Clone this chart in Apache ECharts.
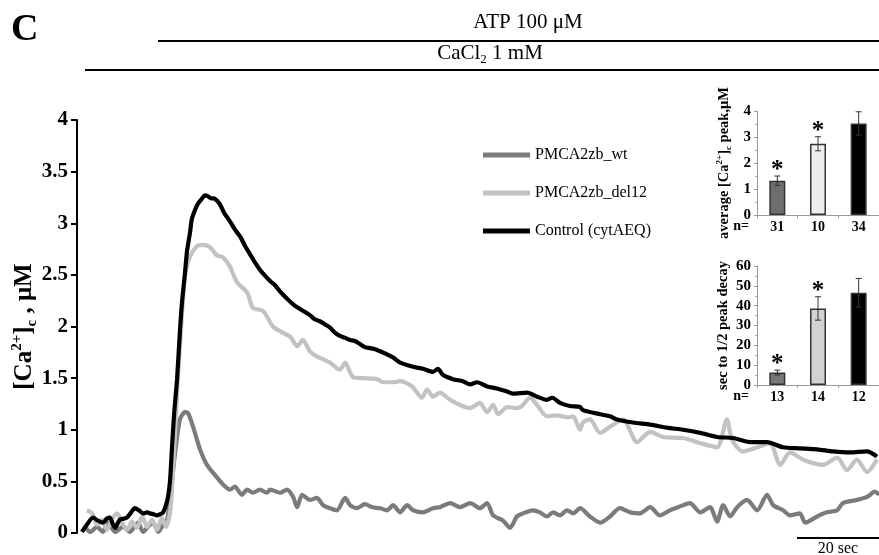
<!DOCTYPE html>
<html><head><meta charset="utf-8">
<script src="https://cdn.jsdelivr.net/npm/echarts@6/dist/echarts.min.js"></script>
<style>html,body{margin:0;padding:0;background:#fff}#c{width:879px;height:555px}</style>
</head><body><div id="c"></div>
<script>
// ---- main traces: [time (s), [Ca2+]c (µM)] ----
const wtTrace = [[2.0,0.06],[3.2,0.01],[4.9,0.06],[6.3,0.01],[7.6,0.10],[9.3,0.01],[11.2,0.06],[12.9,0.01],[14.9,0.10],[16.1,0.01],[17.3,0.06],[18.5,0.10],[19.8,0.01],[21.0,0.08],[22.0,0.13],[22.9,0.40],[23.9,0.77],[25.1,1.10],[26.3,1.17],[27.1,1.16],[28.3,1.03],[30.0,0.81],[31.7,0.66],[34.1,0.54],[35.6,0.47],[37.3,0.42],[38.5,0.45],[40.2,0.37],[41.5,0.42],[42.9,0.39],[44.6,0.42],[46.3,0.39],[47.1,0.42],[49.5,0.39],[51.2,0.42],[52.7,0.35],[53.7,0.25],[54.9,0.37],[56.8,0.32],[58.5,0.34],[60.0,0.27],[61.7,0.24],[63.4,0.22],[65.4,0.34],[66.6,0.27],[68.3,0.24],[70.2,0.28],[72.0,0.25],[73.9,0.24],[75.6,0.22],[77.1,0.27],[78.8,0.20],[80.5,0.27],[82.0,0.22],[84.4,0.20],[86.8,0.24],[88.5,0.25],[91.0,0.29],[93.4,0.25],[95.9,0.29],[98.3,0.24],[100.0,0.29],[101.5,0.17],[103.9,0.12],[105.6,0.05],[107.3,0.16],[108.8,0.19],[111.2,0.22],[112.9,0.20],[114.6,0.16],[116.1,0.20],[117.8,0.17],[119.5,0.22],[121.0,0.19],[122.7,0.24],[125.1,0.16],[127.6,0.10],[130.0,0.16],[132.4,0.24],[134.9,0.20],[137.3,0.19],[139.8,0.25],[142.2,0.17],[144.6,0.22],[146.6,0.25],[149.5,0.29],[152.0,0.20],[154.4,0.25],[156.1,0.11],[157.6,0.27],[159.3,0.16],[161.0,0.25],[163.4,0.32],[165.9,0.22],[168.3,0.37],[169.8,0.27],[172.2,0.22],[173.9,0.17],[176.3,0.19],[177.6,0.10],[180.5,0.16],[182.9,0.20],[185.4,0.22],[186.8,0.29],[190.2,0.32],[192.7,0.35],[194.6,0.40],[195.6,0.37]];

const del12Trace = [[2.4,0.22],[3.7,0.19],[4.9,0.08],[6.1,0.13],[7.3,0.03],[8.5,0.13],[9.8,0.19],[11.0,0.10],[12.2,0.03],[13.4,0.11],[14.6,0.05],[15.9,0.16],[17.1,0.06],[18.3,0.13],[19.5,0.03],[20.7,0.15],[21.7,0.06],[22.7,0.20],[23.2,0.45],[23.9,0.95],[24.6,1.50],[25.4,2.00],[25.9,2.30],[26.3,2.49],[27.6,2.68],[29.3,2.78],[30.7,2.79],[32.4,2.77],[34.1,2.69],[35.6,2.67],[37.3,2.58],[39.0,2.43],[41.5,2.33],[42.9,2.18],[45.4,2.15],[47.8,2.00],[50.2,1.94],[52.0,1.90],[53.7,1.81],[55.1,1.87],[56.8,1.76],[58.5,1.71],[61.7,1.65],[64.1,1.58],[65.4,1.65],[67.3,1.51],[69.8,1.50],[73.2,1.49],[74.6,1.46],[77.1,1.46],[78.8,1.47],[80.5,1.45],[82.0,1.41],[84.1,1.31],[85.4,1.39],[86.8,1.32],[88.5,1.36],[91.0,1.29],[93.4,1.24],[95.9,1.21],[98.3,1.26],[100.0,1.17],[101.5,1.24],[102.7,1.15],[104.9,1.22],[107.3,1.21],[108.5,1.23],[110.5,1.31],[112.2,1.24],[114.6,1.13],[117.1,1.14],[119.5,1.12],[121.0,1.13],[122.7,1.00],[123.4,1.07],[125.1,1.10],[127.6,0.97],[130.0,1.03],[133.2,1.10],[136.6,0.88],[139.8,0.98],[142.9,0.93],[147.8,0.92],[152.0,0.87],[156.1,0.83],[158.5,1.10],[159.8,0.90],[162.4,0.79],[165.9,0.83],[169.0,0.87],[171.5,0.66],[173.9,0.78],[177.1,0.71],[181.9,0.66],[185.4,0.73],[187.8,0.61],[190.2,0.71],[192.7,0.59],[195.1,0.71]];

const controlTrace = [[1.2,0.01],[2.4,0.08],[3.9,0.15],[5.1,0.12],[6.3,0.10],[7.3,0.14],[8.0,0.15],[8.8,0.08],[9.3,0.05],[10.0,0.10],[10.5,0.13],[11.5,0.14],[12.2,0.15],[13.2,0.20],[14.1,0.24],[15.1,0.22],[16.1,0.19],[17.1,0.20],[17.8,0.19],[18.8,0.18],[19.5,0.17],[20.2,0.18],[21.0,0.20],[21.7,0.27],[22.2,0.35],[22.7,0.51],[23.2,0.85],[23.7,1.16],[24.4,1.49],[25.1,1.95],[25.6,2.23],[26.3,2.50],[26.8,2.72],[27.6,2.92],[28.0,3.04],[28.8,3.13],[29.5,3.19],[30.5,3.24],[31.2,3.27],[32.0,3.26],[32.7,3.24],[33.4,3.24],[34.1,3.22],[34.9,3.18],[35.9,3.10],[36.6,3.06],[37.6,3.00],[38.5,2.94],[39.8,2.87],[41.0,2.78],[42.2,2.70],[43.4,2.62],[44.6,2.55],[45.9,2.49],[47.1,2.44],[48.3,2.40],[49.5,2.34],[50.7,2.29],[52.0,2.24],[53.2,2.20],[54.4,2.17],[55.6,2.14],[56.8,2.11],[58.0,2.07],[59.3,2.05],[60.5,2.02],[61.7,1.99],[62.9,1.94],[64.1,1.91],[65.4,1.89],[66.6,1.87],[67.8,1.86],[69.0,1.83],[70.2,1.80],[71.5,1.79],[72.7,1.78],[73.9,1.76],[75.6,1.73],[77.1,1.70],[78.8,1.65],[82.0,1.61],[84.4,1.59],[86.8,1.56],[88.0,1.59],[89.3,1.53],[91.7,1.49],[94.1,1.47],[95.9,1.44],[97.6,1.46],[100.0,1.42],[102.4,1.40],[104.9,1.37],[106.3,1.35],[109.8,1.36],[112.2,1.32],[114.6,1.29],[115.9,1.31],[117.8,1.26],[120.2,1.23],[122.7,1.22],[123.4,1.19],[127.6,1.15],[130.0,1.13],[131.7,1.10],[135.6,1.07],[139.8,1.05],[143.9,1.02],[147.8,1.00],[152.0,0.97],[156.1,0.93],[160.0,0.92],[164.1,0.88],[168.3,0.88],[172.2,0.83],[176.3,0.82],[180.5,0.81],[184.4,0.79],[188.5,0.78],[192.7,0.79],[195.1,0.74]];

const seriesNames = ['PMCA2zb_wt', 'PMCA2zb_del12', 'Control (cytAEQ)'];
const yTicks = [0, 0.5, 1, 1.5, 2, 2.5, 3, 3.5, 4];
const timeMax = 195.6;      // s, visible span
const scaleBarSec = 20;

// ---- insets ----
const peakN = ['31', '10', '34'];
const peakMean = [1.32, 2.74, 3.52];
const peakErr = [0.18, 0.27, 0.45];
const peakStar = [true, true, false];

const decayN = ['13', '14', '12'];
const decayMean = [6.3, 38.6, 46.5];
const decayErr = [1.2, 5.9, 7.2];
const decayStar = [true, true, false];

const SERIF = 'Liberation Serif';
const lineColors = ['#7b7b7b', '#c2c2c2', '#000000'];
const peakColors = ['#6e6e6e', '#eeeeee', '#000000'];
const decayColors = ['#777777', '#d2d2d2', '#000000'];

const chart = echarts.init(document.getElementById('c'));

function errRender(params, api) {
  const i = api.value(0);
  const lo = api.coord([i, api.value(1)]);
  const hi = api.coord([i, api.value(2)]);
  const x = lo[0];
  const st = {stroke: '#333', lineWidth: 1};
  const kids = [
    {type: 'line', shape: {x1: x, y1: lo[1], x2: x, y2: hi[1]}, style: st},
    {type: 'line', shape: {x1: x - 3, y1: hi[1], x2: x + 3, y2: hi[1]}, style: st},
    {type: 'line', shape: {x1: x - 3, y1: lo[1], x2: x + 3, y2: lo[1]}, style: st}
  ];
  if (api.value(3)) {
    kids.push({type: 'text', x: x, y: hi[1] + 7, style: {text: '*', fontSize: 25, fontWeight: 'bold', fontFamily: SERIF, fill: '#000', align: 'center', verticalAlign: 'bottom'}});
  }
  return {type: 'group', children: kids};
}

function insetX(grid, cats) {
  return {gridIndex: grid, type: 'category', data: cats,
    axisLine: {show: true, lineStyle: {color: '#999', width: 1}},
    axisTick: {show: true, length: 3, lineStyle: {color: '#999'}},
    axisLabel: {color: '#000', fontFamily: SERIF, fontWeight: 'bold', fontSize: 14, margin: 5},
    splitLine: {show: false}};
}
function insetY(grid, max, interval, name, nameGap) {
  return {gridIndex: grid, type: 'value', min: 0, max: max, interval: interval,
    axisLine: {show: true, lineStyle: {color: '#999', width: 1}},
    axisTick: {show: true, length: 3, lineStyle: {color: '#999'}},
    minorTick: {show: true, splitNumber: 2, length: 2, lineStyle: {color: '#aaa'}},
    splitLine: {show: false}, minorSplitLine: {show: false},
    axisLabel: {color: '#000', fontFamily: SERIF, fontWeight: 'bold', fontSize: 15, margin: 6},
    name: name, nameLocation: 'middle', nameGap: nameGap, nameMoveOverlap: false,
    nameTextStyle: {color: '#000', fontFamily: SERIF, fontWeight: 'bold', fontSize: 14,
      rich: {
        n: {fontFamily: SERIF, fontWeight: 'bold', fontSize: 14.5, lineHeight: 18, color: '#000'},
        sup: {fontFamily: SERIF, fontWeight: 'bold', fontSize: 9, verticalAlign: 'top', color: '#000'},
        sub: {fontFamily: SERIF, fontWeight: 'bold', fontSize: 9, verticalAlign: 'bottom', color: '#000'}
      }}};
}

const traces = [wtTrace, del12Trace, controlTrace];

const option = {
  animation: false,
  backgroundColor: '#fff',
  grid: [
    {left: 77, right: 0, top: 120, bottom: 22, outerBoundsMode: 'none', containLabel: false},
    {left: 757, right: 0, top: 111, bottom: 340, outerBoundsMode: 'none', containLabel: false},
    {left: 757, right: 0, top: 266, bottom: 170, outerBoundsMode: 'none', containLabel: false}
  ],
  xAxis: [
    {gridIndex: 0, type: 'value', min: 0, max: timeMax, show: false},
    insetX(1, peakN),
    insetX(2, decayN)
  ],
  yAxis: [
    {gridIndex: 0, type: 'value', min: yTicks[0], max: yTicks[yTicks.length - 1], interval: yTicks[1] - yTicks[0],
      axisLine: {show: true, lineStyle: {color: '#000', width: 2}},
      axisTick: {show: true, length: 6, lineStyle: {color: '#000', width: 2}},
      axisLabel: {color: '#000', fontFamily: SERIF, fontWeight: 'bold', fontSize: 21, margin: 9},
      splitLine: {show: false},
      name: '{n|[Ca}{sup|2+}{n|]}{sub|c}{n| , μM}', nameLocation: 'middle', nameGap: 37, nameMoveOverlap: false,
      nameTextStyle: {color: '#000', fontFamily: SERIF, fontWeight: 'bold', fontSize: 24,
        rich: {
          n: {fontFamily: SERIF, fontWeight: 'bold', fontSize: 25, lineHeight: 30, color: '#000'},
          sup: {fontFamily: SERIF, fontWeight: 'bold', fontSize: 15, verticalAlign: 'top', color: '#000'},
          sub: {fontFamily: SERIF, fontWeight: 'bold', fontSize: 15, verticalAlign: 'bottom', color: '#000'}
        }}},
    insetY(1, 4, 1, '{n|average [Ca}{sup|2+}{n|]}{sub|c}{n| peak,μM}', 24),
    insetY(2, 60, 10, '{n|sec to 1/2 peak decay}', 25)
  ],
  legend: {
    show: true, orient: 'vertical', left: 478, top: 141, icon: 'rect',
    itemWidth: 47, itemHeight: 5, itemGap: 20,
    textStyle: {fontFamily: SERIF, fontSize: 16, color: '#000', lineHeight: 18},
    data: seriesNames
  },
  series: [
    ...traces.map((d, k) => ({
      type: 'line', name: seriesNames[k], xAxisIndex: 0, yAxisIndex: 0, data: d,
      symbol: 'none', showSymbol: false, smooth: 0.25,
      lineStyle: {color: lineColors[k], width: 4.2}, itemStyle: {color: lineColors[k]},
      z: 2 + k
    })),
    {type: 'bar', xAxisIndex: 1, yAxisIndex: 1, barWidth: 16,
      data: peakMean.map((v, i) => ({value: v, itemStyle: {color: peakColors[i], borderColor: '#333', borderWidth: 1.5}}))},
    {type: 'custom', xAxisIndex: 1, yAxisIndex: 1, renderItem: errRender, z: 5,
      data: peakMean.map((v, i) => [i, v - peakErr[i], v + peakErr[i], peakStar[i] ? 1 : 0])},
    {type: 'bar', xAxisIndex: 2, yAxisIndex: 2, barWidth: 16,
      data: decayMean.map((v, i) => ({value: v, itemStyle: {color: decayColors[i], borderColor: '#333', borderWidth: 1.5}}))},
    {type: 'custom', xAxisIndex: 2, yAxisIndex: 2, renderItem: errRender, z: 5,
      data: decayMean.map((v, i) => [i, v - decayErr[i], v + decayErr[i], decayStar[i] ? 1 : 0])}
  ]
};
chart.setOption(option);

// annotations: header bars, panel letter, n= labels, scale bar (scale bar positioned through the time axis)
const p0 = chart.convertToPixel({xAxisIndex: 0, yAxisIndex: 0}, [timeMax - scaleBarSec, 0]);
const p1 = chart.convertToPixel({xAxisIndex: 0, yAxisIndex: 0}, [timeMax, 0]);
chart.setOption({
  graphic: [
    {type: 'text', left: 11, top: 11, style: {text: 'C', fontFamily: SERIF, fontWeight: 'bold', fontSize: 38, fill: '#000'}},
    {type: 'text', x: 528, y: 22, style: {text: 'ATP 100 μM', fontFamily: SERIF, fontSize: 21, fill: '#000', align: 'center', verticalAlign: 'middle'}},
    {type: 'line', shape: {x1: 158, y1: 41, x2: 879, y2: 41}, style: {stroke: '#000', lineWidth: 2}},
    {type: 'text', x: 490, y: 53, style: {text: '{n|CaCl}{s|2}{n| 1 mM}', fontFamily: SERIF, fontSize: 21, fill: '#000', align: 'center', verticalAlign: 'middle',
      rich: {n: {fontFamily: SERIF, fontSize: 21, lineHeight: 26, fill: '#000', color: '#000'}, s: {fontFamily: SERIF, fontSize: 13, verticalAlign: 'bottom', color: '#000'}}}},
    {type: 'line', shape: {x1: 85, y1: 70, x2: 879, y2: 70}, style: {stroke: '#000', lineWidth: 2}},
    {type: 'text', x: 749, y: 226, style: {text: 'n=', fontFamily: SERIF, fontWeight: 'bold', fontSize: 14, fill: '#000', align: 'right', verticalAlign: 'middle'}},
    {type: 'text', x: 749, y: 396, style: {text: 'n=', fontFamily: SERIF, fontWeight: 'bold', fontSize: 14, fill: '#000', align: 'right', verticalAlign: 'middle'}},
    {type: 'line', shape: {x1: p0[0], y1: p0[1] + 5, x2: p1[0], y2: p1[1] + 5}, style: {stroke: '#000', lineWidth: 2}},
    {type: 'text', x: (p0[0] + p1[0]) / 2, y: p0[1] + 16, style: {text: scaleBarSec + ' sec', fontFamily: SERIF, fontSize: 16, fill: '#000', align: 'center', verticalAlign: 'middle'}}
  ]
});
</script>
</body></html>
